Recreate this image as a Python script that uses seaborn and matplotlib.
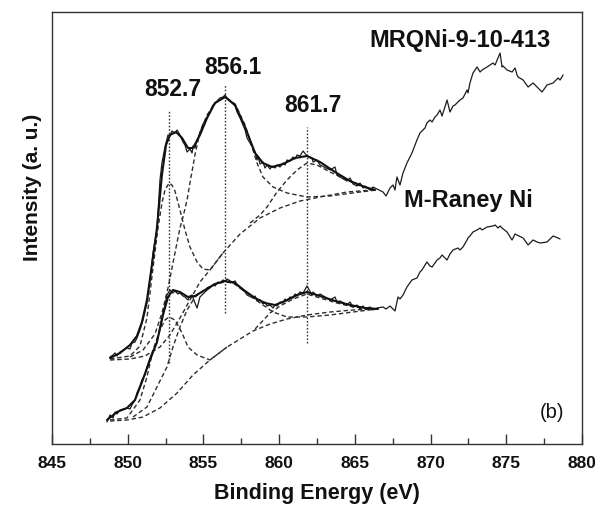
import matplotlib
matplotlib.use("Agg")
import matplotlib.pyplot as plt
import seaborn as sns
import pandas as pd
from matplotlib.ticker import MultipleLocator

sns.set_theme(style="white")
plt.rcParams["font.family"] = ["Liberation Sans", "DejaVu Sans"]

# ---------------- data (binding energy in eV, intensity in a.u.) ----------------
# MRQNi-9-10-413 raw spectrum
upper_E = [848.83, 849.03, 849.16, 849.29, 849.49, 849.95, 850.15, 850.28, 850.48, 850.61,
           850.81, 851.01, 851.27, 851.47, 851.67, 851.93, 852.13, 852.26, 852.46, 852.66,
           852.79, 852.92, 853.12, 853.26, 853.45, 853.65, 853.78, 853.92, 854.11, 854.25,
           854.31, 854.44, 854.58, 854.77, 854.97, 855.10, 855.24, 855.43, 855.63, 855.76,
           855.96, 856.09, 856.29, 856.43, 856.56, 856.89, 857.09, 857.22, 857.42, 857.75,
           857.88, 858.27, 858.41, 858.54, 858.60, 858.74, 858.93, 859.07, 859.20, 859.40,
           859.53, 859.73, 859.86, 860.06, 860.26, 860.39, 860.52, 860.72, 860.92, 861.05,
           861.18, 861.38, 861.58, 861.84, 862.17, 862.24, 862.50, 862.70, 863.36, 863.69,
           863.82, 864.02, 864.48, 864.68, 864.88, 865.14, 865.34, 865.54, 865.67, 866.00,
           866.20, 866.46, 866.86, 867.06, 867.32, 867.52, 867.65, 867.78, 867.98, 868.18,
           868.44, 868.77, 869.10, 869.30, 869.43, 869.63, 869.76, 869.96, 870.10, 870.29,
           870.43, 870.62, 870.76, 870.82, 871.09, 871.28, 871.48, 871.61, 871.81, 871.94,
           872.14, 872.41, 872.47, 872.60, 872.80, 873.07, 873.27, 873.40, 873.73, 874.12,
           874.26, 874.45, 874.59, 874.72, 874.78, 875.05, 875.38, 875.58, 875.71, 875.78,
           876.11, 876.44, 876.77, 877.03, 877.23, 877.36, 877.69, 878.09, 878.42, 878.55,
           878.75]
upper_I = [87, 89, 91, 88, 92, 96, 95, 101, 102, 106,
           114, 124, 141, 164, 191, 214, 264, 281, 297, 309,
           308, 313, 311, 314, 309, 302, 299, 292, 295, 291,
           298, 296, 304, 311, 320, 323, 327, 332, 339, 340,
           344, 346, 347, 349, 346, 341, 338, 332, 326, 314,
           306, 296, 292, 284, 288, 280, 282, 276, 279, 275,
           278, 276, 279, 277, 281, 279, 284, 283, 287, 285,
           289, 288, 293, 288, 286, 282, 284, 279, 274, 277,
           269, 267, 263, 266, 260, 258, 261, 256, 258, 254,
           257, 255, 252, 248, 256, 259, 254, 267, 259, 271,
           281, 291, 304, 311, 313, 316, 321, 324, 322, 327,
           329, 334, 328, 331, 344, 332, 338, 339, 342, 344,
           346, 354, 351, 361, 371, 377, 372, 374, 377, 381,
           379, 386, 391, 377, 378, 374, 372, 376, 369, 367,
           364, 357, 361, 357, 354, 352, 359, 361, 366, 364,
           369]

# M-Raney Ni raw spectrum
lower_E = [848.63, 848.83, 849.03, 849.16, 849.29, 849.49, 849.95, 850.15, 850.28, 850.48,
           850.61, 850.81, 850.94, 851.14, 851.27, 851.47, 851.60, 851.80, 851.93, 852.13,
           852.33, 852.46, 852.59, 852.79, 852.99, 853.12, 853.32, 853.45, 853.65, 853.78,
           853.98, 854.11, 854.25, 854.44, 854.58, 854.77, 854.97, 855.24, 855.43, 855.63,
           855.76, 855.96, 856.09, 856.29, 856.43, 856.56, 856.89, 857.09, 857.22, 857.42,
           857.75, 857.88, 858.27, 858.41, 858.54, 858.74, 858.93, 859.07, 859.20, 859.40,
           859.60, 859.73, 859.86, 860.06, 860.26, 860.39, 860.52, 860.72, 860.92, 861.05,
           861.18, 861.38, 861.58, 861.84, 862.17, 862.24, 862.50, 862.70, 863.36, 863.69,
           863.82, 864.02, 864.48, 864.68, 864.88, 865.14, 865.34, 865.54, 865.67, 866.00,
           866.20, 866.46, 866.86, 867.06, 867.32, 867.52, 867.65, 867.85, 867.98, 868.18,
           868.44, 868.77, 869.10, 869.30, 869.43, 869.76, 869.96, 870.10, 870.43, 870.62,
           870.76, 871.09, 871.28, 871.48, 871.81, 871.94, 872.14, 872.41, 872.47, 872.60,
           872.80, 873.07, 873.27, 873.40, 873.73, 874.12, 874.26, 874.45, 874.59, 874.72,
           875.05, 875.38, 875.58, 875.71, 876.11, 876.44, 876.77, 877.03, 877.23, 877.69,
           878.09, 878.42, 878.55]
lower_I = [22, 29, 26, 32, 30, 34, 36, 35, 39, 44,
           51, 58, 64, 69, 77, 86, 91, 97, 101, 117,
           131, 139, 149, 154, 151, 153, 150, 151, 148, 147,
           144, 148, 149, 141, 136, 147, 150, 154, 156, 159,
           158, 162, 161, 164, 163, 165, 162, 163, 159, 156,
           152, 149, 146, 148, 143, 144, 140, 142, 138, 139,
           136, 139, 138, 142, 141, 145, 143, 147, 146, 150,
           148, 152, 151, 158, 149, 152, 148, 150, 144, 147,
           142, 143, 139, 142, 137, 139, 135, 138, 135, 137,
           134, 136, 137, 135, 138, 135, 133, 147, 145, 149,
           157, 164, 166, 172, 174, 182, 178, 177, 184, 186,
           189, 184, 190, 194, 196, 194, 197, 204, 206, 208,
           212, 214, 216, 214, 217, 218, 219, 216, 218, 216,
           212, 204, 210, 209, 206, 199, 204, 202, 201, 202,
           208, 206, 205]

# fitted envelopes
upper_fit_E = [848.83, 849.49, 850.15, 850.61, 850.94, 851.27, 851.60, 851.93, 852.26, 852.53,
               852.79, 853.19, 853.59, 853.98, 854.31, 854.77, 855.24, 855.76, 856.43, 857.09,
               857.75, 858.41, 858.93, 859.53, 860.26, 861.05, 861.84, 862.70, 863.69, 864.68,
               865.67, 866.33]
upper_fit_I = [86, 91, 99, 108, 122, 144, 179, 216, 269, 299,
               309, 312, 306, 296, 296, 309, 326, 341, 347, 339,
               317, 291, 281, 277, 280, 286, 288, 282, 272, 263,
               257, 254]
lower_fit_E = [848.63, 849.29, 849.95, 850.48, 850.94, 851.47, 851.93, 852.33, 852.66, 852.99,
               853.45, 853.98, 854.44, 855.10, 855.76, 856.43, 857.09, 857.75, 858.41, 859.07,
               859.73, 860.39, 861.18, 861.84, 862.70, 863.69, 864.68, 865.67, 866.53]
lower_fit_I = [24, 32, 36, 44, 62, 84, 102, 129, 147, 154,
               152, 147, 148, 154, 160, 163, 161, 153, 146, 141,
               139, 143, 149, 152, 148, 143, 139, 136, 135]

# fitted components (upper spectrum): background and three peaks
u_bg_E = [848.83, 850.15, 851.14, 852.13, 852.79, 853.45, 854.11, 854.77, 855.43, 856.29,
          857.42, 858.74, 860.06, 861.38, 862.70, 864.48, 866.20]
u_bg_I = [84, 85, 88, 97, 109, 126, 144, 162, 174, 191,
          210, 226, 236, 243, 247, 252, 254]
u_p1_E = [848.83, 850.15, 850.81, 851.27, 851.67, 852.00, 852.26, 852.46, 852.73, 852.92,
          853.12, 853.45, 853.78, 854.11, 854.58, 854.97, 855.43, 856.29]
u_p1_I = [85, 88, 98, 126, 176, 216, 241, 254, 261, 259,
          253, 234, 214, 197, 182, 175, 174, 191]
u_p2_E = [850.15, 851.01, 851.80, 852.26, 852.66, 853.12, 853.45, 853.65, 853.92, 854.11,
          854.44, 854.77, 855.24, 855.76, 856.43, 857.09, 857.75, 858.27, 858.54, 858.93,
          859.60, 860.52, 861.84, 863.36, 865.34, 866.46]
u_p2_I = [87, 94, 110, 131, 156, 191, 216, 227, 244, 261,
          289, 312, 329, 341, 347, 340, 319, 294, 281, 267,
          257, 251, 247, 248, 252, 254]
u_p3_E = [858.08, 858.74, 859.20, 859.86, 860.52, 861.18, 861.84, 862.50, 863.36, 864.48,
          865.54, 866.46]
u_p3_I = [221, 229, 237, 252, 264, 274, 281, 279, 272, 264,
          257, 254]

# fitted components (lower spectrum)
l_bg_E = [848.83, 849.95, 851.01, 852.13, 853.26, 854.31, 855.43, 856.56, 857.42, 858.27,
          859.40, 860.52, 861.84, 863.36, 864.88, 866.46]
l_bg_I = [23, 24, 27, 36, 51, 69, 84, 97, 105, 113,
          120, 125, 129, 132, 134, 135]
l_p1_E = [848.83, 849.95, 850.81, 851.27, 851.67, 852.13, 852.46, 852.73, 853.12, 853.59,
          853.98, 854.58, 855.10, 855.43, 856.56]
l_p1_I = [24, 26, 44, 67, 94, 114, 124, 127, 124, 111,
          97, 89, 86, 84, 97]
l_p2_E = [850.35, 851.27, 851.93, 852.59, 852.99, 853.45, 853.92, 854.44, 855.24, 855.76,
          856.43, 856.95, 857.88, 858.74, 859.60, 860.52, 861.84, 863.36, 864.88, 866.46]
l_p2_I = [27, 37, 57, 77, 97, 117, 134, 147, 156, 160,
          162, 161, 151, 141, 132, 127, 127, 129, 132, 135]
l_p3_E = [858.41, 859.40, 860.06, 860.92, 861.84, 862.70, 863.82, 864.88, 866.46]
l_p3_I = [115, 131, 138, 145, 150, 146, 141, 137, 135]

# peak markers: line position, top and bottom intensity, label text
peak_pos = [852.73, 856.43, 861.84]
peak_top = [334, 359, 317]
peak_bot = [81, 131, 101]
peak_labels = ["852.7", "856.1", "861.7"]
label_E = [852.99, 856.95, 862.24]
label_I = [355, 376, 339]

x_ticks = [845, 850, 855, 860, 865, 870, 875, 880]

# ---------------- plotting ----------------
fig = plt.figure(figsize=(5.95, 5.05), dpi=100)
ax = fig.add_axes([52 / 595, 1 - 444 / 505, 530 / 595, 432 / 505])

ink = "#1c1c1c"
dash_col = "#2e2e2e"

# vertical dotted peak markers
for p, t, b in zip(peak_pos, peak_top, peak_bot):
    sns.lineplot(x=[p, p], y=[b, t], ax=ax, color="#3a3a3a", lw=1.0,
                 linestyle=(0, (1.2, 1.3)), estimator=None, sort=False)

# dashed components
for E, I in [(u_bg_E, u_bg_I), (u_p1_E, u_p1_I), (u_p2_E, u_p2_I), (u_p3_E, u_p3_I),
             (l_bg_E, l_bg_I), (l_p1_E, l_p1_I), (l_p2_E, l_p2_I), (l_p3_E, l_p3_I)]:
    sns.lineplot(x=E, y=I, ax=ax, color=dash_col, lw=1.0, linestyle=(0, (3.2, 2.0)),
                 estimator=None, sort=False)

# raw spectra
for E, I in [(upper_E, upper_I), (lower_E, lower_I)]:
    sns.lineplot(x=E, y=I, ax=ax, color=ink, lw=0.9, estimator=None, sort=False)

# fit envelopes
for E, I in [(upper_fit_E, upper_fit_I), (lower_fit_E, lower_fit_I)]:
    sns.lineplot(x=E, y=I, ax=ax, color="#111111", lw=1.5, estimator=None, sort=False)

for txt, xe, yi in zip(peak_labels, label_E, label_I):
    ax.text(xe, yi, txt, ha="center", va="center", fontsize=16.5, fontweight="bold", color="#111111")

ax.text(871.94, 404, "MRQNi-9-10-413", ha="center", va="center", fontsize=17,
        fontweight="bold", color="#111111")
ax.text(872.47, 244, "M-Raney Ni", ha="center", va="center", fontsize=17,
        fontweight="bold", color="#111111")
ax.text(878.02, 32, "(b)", ha="center", va="center", fontsize=14.5, color="#111111")

ax.set_xlim(845, 880)
ax.set_ylim(0, 432)
ax.set_xticks(x_ticks)
ax.set_xticklabels([str(t) for t in x_ticks])
ax.xaxis.set_minor_locator(MultipleLocator(2.5))
ax.set_yticks([])
ax.tick_params(axis="x", which="major", direction="in", length=7, width=1.0,
               color="#333333", pad=9, labelsize=12.5, bottom=True)
ax.tick_params(axis="x", which="minor", direction="in", length=4, width=1.0,
               color="#333333", bottom=True)
for lab in ax.get_xticklabels():
    lab.set_fontweight("bold")
    lab.set_color("#111111")

for s in ax.spines.values():
    s.set_visible(True)
    s.set_color("#333333")
    s.set_linewidth(1.0)

ax.set_xlabel("Binding Energy (eV)", fontsize=15.5, fontweight="bold", color="#111111", labelpad=8)
ax.set_ylabel("Intensity (a. u.)", fontsize=15, fontweight="bold", color="#111111")
ax.yaxis.set_label_coords(-0.019, 0.595)

fig.savefig("out.png", dpi=100, facecolor="white")
